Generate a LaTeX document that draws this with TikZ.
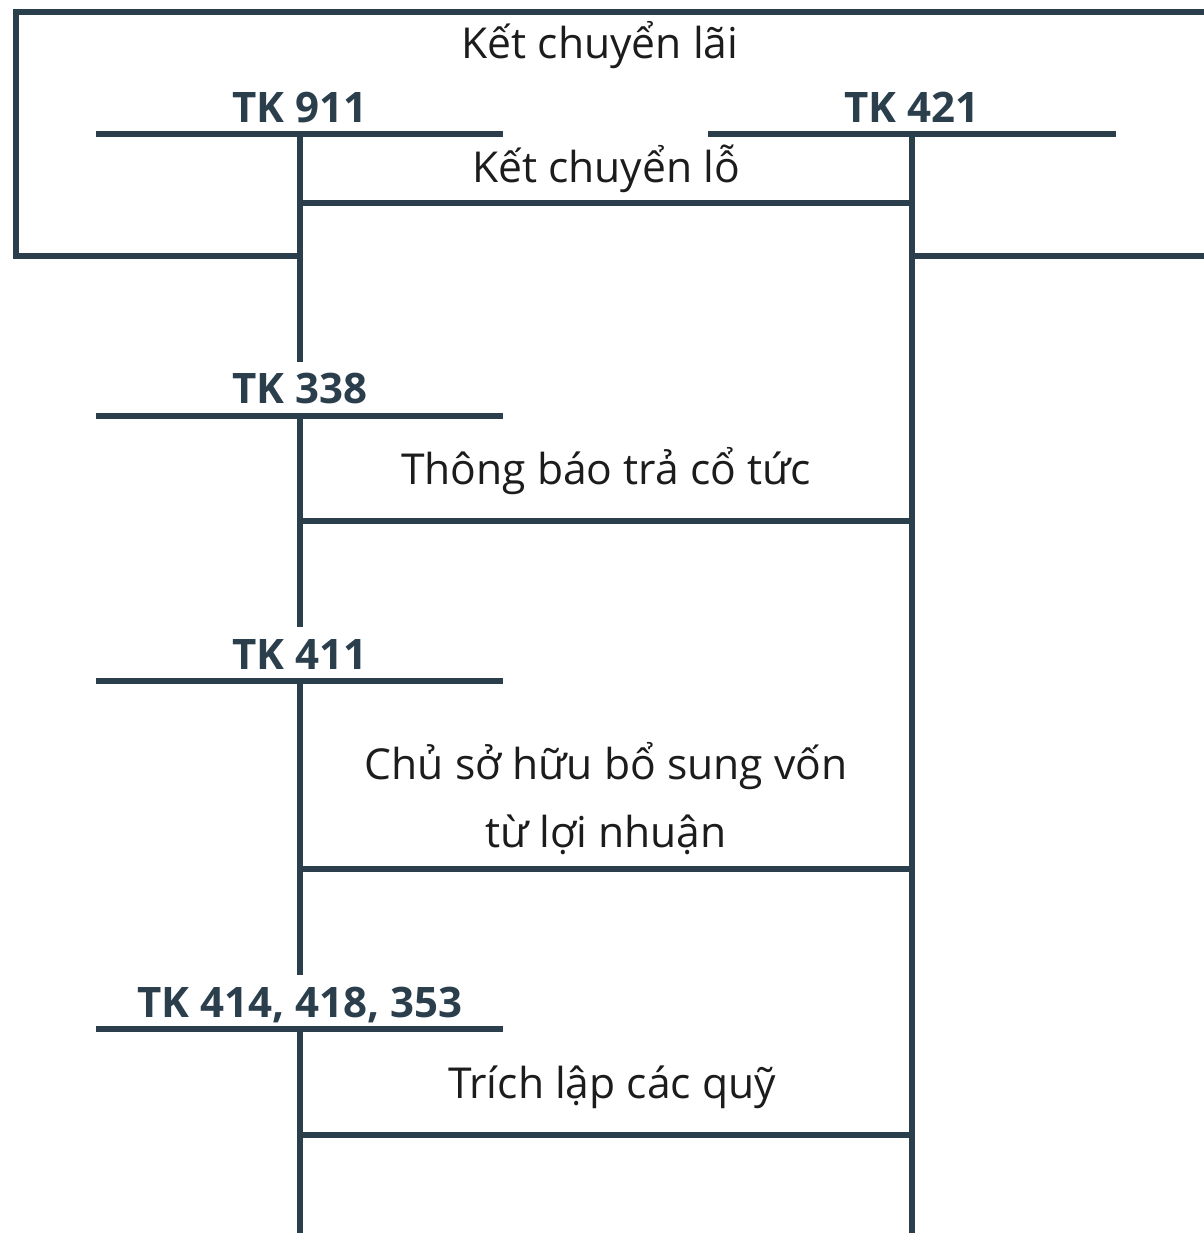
\documentclass[tikz,border=0pt]{standalone}
\usepackage{fontspec}
\setmainfont{Open Sans}
\usetikzlibrary{positioning}
\definecolor{acctline}{HTML}{2B3E4C}
\definecolor{plaintext}{HTML}{1C1C1C}
\tikzset{acct/.style={line width=3pt,draw=acctline},
 tk/.style={anchor=base,inner sep=0pt,text=acctline,font=\fontsize{21}{25}\selectfont\bfseries},
 entry/.style={anchor=base,inner sep=0pt,text=plaintext,align=center,
  font=\fontsize{21.3}{34}\selectfont}}

\begin{document}
\begin{tikzpicture}[x=0.5pt,y=-0.5pt]
\useasboundingbox (0,0) rectangle (1204,1233);
% T accounts
\coordinate (L911) at (300,134);
\coordinate (L338) at (300,416);
\coordinate (L411) at (300,681);
\coordinate (L414) at (300,1029);
\coordinate (R421) at (912,134);
\node[tk] (tk911) at (300,122) {TK 911};
\node[tk] (tk421) at (912,122) {TK 421};
\node[tk] (tk338) at (300,403) {TK 338};
\node[tk] (tk411) at (300,669) {TK 411};
\node[tk] (tk414) at (300,1017) {TK 414, 418, 353};
\draw[acct] (96,134) -- (503,134);
\draw[acct] (708,134) -- (1116,134);
\draw[acct] (96,416) -- (503,416);
\draw[acct] (96,681) -- (503,681);
\draw[acct] (96,1029) -- (503,1029);
\draw[acct] (L911) -- (300,362);
\draw[acct] (L338) -- (300,627);
\draw[acct] (L411) -- (300,975);
\draw[acct] (L414) -- (300,1233);
\draw[acct] (R421) -- (912,1233);
% transfers
\coordinate (a911) at (300,203);
\coordinate (b911) at (912,203);
\coordinate (a338) at (300,521);
\coordinate (b338) at (912,521);
\coordinate (a411) at (300,869);
\coordinate (b411) at (912,869);
\coordinate (a414) at (300,1135);
\coordinate (b414) at (912,1135);
\draw[acct] (a911) -- (b911);
\draw[acct] (a338) -- (b338);
\draw[acct] (a411) -- (b411);
\draw[acct] (a414) -- (b414);
\coordinate (f1) at (303,256);
\coordinate (f2) at (912,256);
\draw[acct] (f1) -- (16,256) -- (16,12) -- (1220,12);
\draw[acct] (f2) -- (1220,256);
\node[entry] (lai) at (600,58) {Kết chuyển lãi};
\node[entry] (lo) at (606,182) {Kết chuyển lỗ};
\node[entry] (cotuc) at (606,484) {Thông báo trả cổ tức};
\node[entry,anchor=north] (von) at (606,742) {Chủ sở hữu bổ sung vốn\\từ lợi nhuận};
\node[entry] (quy) at (612,1098) {Trích lập các quỹ};
\end{tikzpicture}
\end{document}
